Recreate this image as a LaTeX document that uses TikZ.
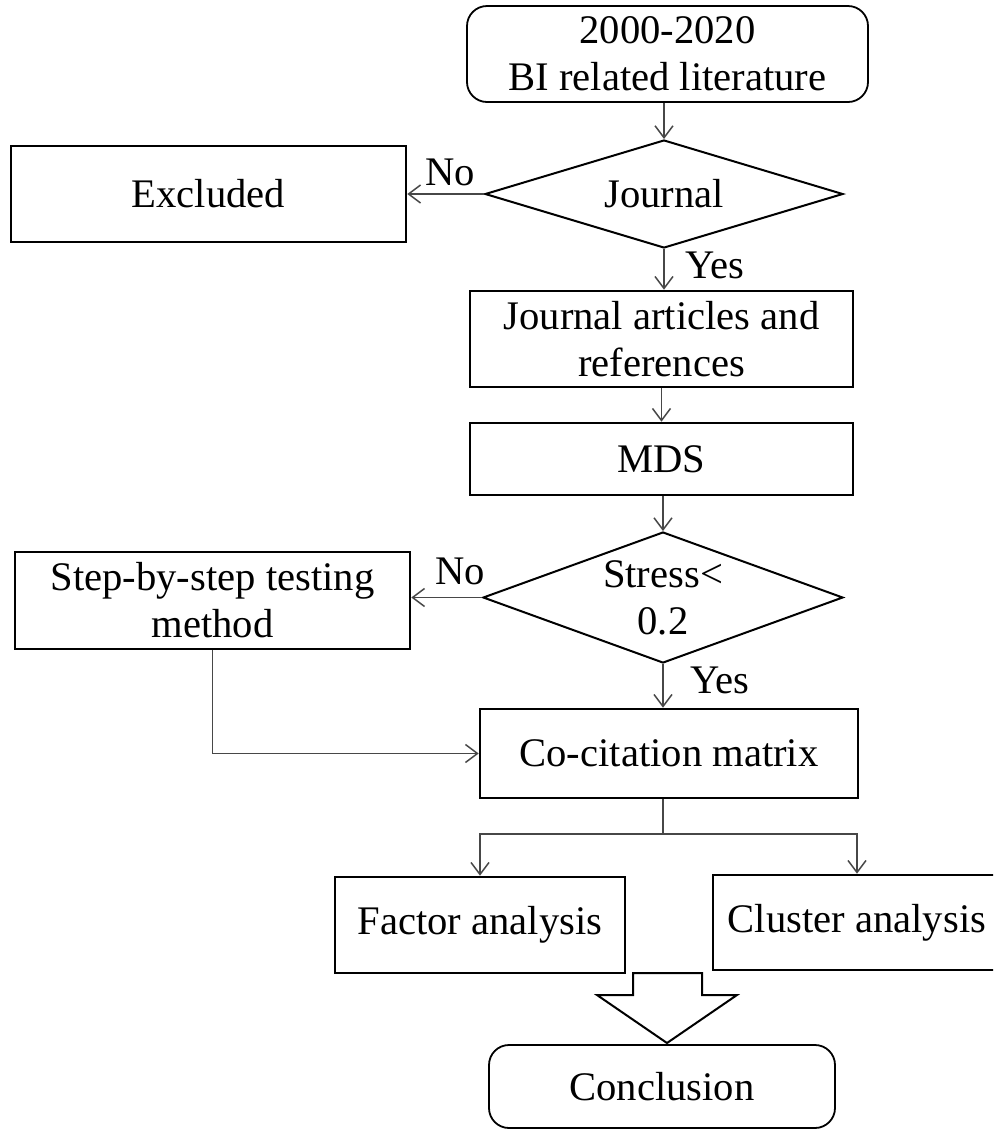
\documentclass[tikz,border=0pt]{standalone}
\usepackage{fontspec}
\setmainfont{Liberation Serif}
\usetikzlibrary{arrows.meta,shapes.geometric}
\begin{document}
\begin{tikzpicture}[x=0.5pt,y=-0.5pt,
  txt/.style={font=\fontsize{20.3pt}{23.5pt}\selectfont},
  box/.style={txt, draw=black, line width=1.3pt, rectangle, inner sep=0pt, align=center},
  rbox/.style={box, rounded corners=10pt, line width=0.9pt},
  dec/.style={draw=black, diamond, line width=1pt, inner sep=0pt},
  lbl/.style={txt, inner sep=0pt},
  line/.style={draw=black!72, line width=0.75pt},
  conn/.style={line, -{Straight Barb[length=6pt,width=9pt]}}
]
\useasboundingbox (0,0) rectangle (993,1131);
\clip (0,0) rectangle (993,1131);

\node[rbox, minimum width=200.5pt, minimum height=48pt] (top) at (667.5,54) {2000-2020\\BI related literature};
\node[dec, minimum width=179pt, minimum height=54pt, label={[txt]center:Journal}] (j) at (664,194) {};
\node[box, minimum width=197.5pt, minimum height=48pt] (ex) at (208.5,194) {Excluded};
\node[box, minimum width=191.5pt, minimum height=48pt] (ja) at (661.5,339) {Journal articles and\\references};
\node[box, minimum width=191.5pt, minimum height=36pt] (mds) at (661.5,459) {MDS};
\node[dec, minimum width=180pt, minimum height=65.5pt, label={[txt, align=center]center:Stress<\\0.2}] (st) at (663,597.5) {};
\node[box, minimum width=197.5pt, minimum height=48.5pt] (step) at (212.5,600.5) {Step-by-step testing\\method};
\node[box, minimum width=189pt, minimum height=44.5pt] (cc) at (669,753.5) {Co-citation matrix};
\node[box, minimum width=145pt, minimum height=48pt] (fa) at (480,925) {Factor analysis};
\node[box, minimum width=144pt, minimum height=47.5pt] (ca) at (857,922.5) {Cluster analysis};
\node[rbox, minimum width=173pt, minimum height=41.5pt] (con) at (662,1086.5) {Conclusion};

\node[lbl] (no1) at (450,172) {No};
\node[lbl] (yes1) at (715,265) {Yes};
\node[lbl] (no2) at (460,571) {No};
\node[lbl] (yes2) at (720,680) {Yes};

\draw[conn] (j.north |- top.south) -- (j.north);
\draw[conn] (j.west) -- (ex.east);
\draw[conn] (j.south) -- (j.south |- ja.north);
\draw[conn] (ja.south) -- (mds.north);
\draw[conn] (st.north |- mds.south) -- (st.north);
\draw[conn] (st.west) -- (st.west -| step.east);
\draw[conn] (st.south) -- (st.south |- cc.north);
\draw[conn] (step.south) |- (cc.west);
\coordinate (br) at (663,834);
\draw[line] (cc.south -| br) -- (br);
\draw[conn] (br) -| (fa.north);
\draw[conn] (br) -| (ca.north);

\draw[line width=1pt, fill=white] (633,973) -- (633,995) -- (597,995) -- (667,1043) -- (737,995) -- (702,995) -- (702,973) -- cycle;
\end{tikzpicture}
\end{document}
